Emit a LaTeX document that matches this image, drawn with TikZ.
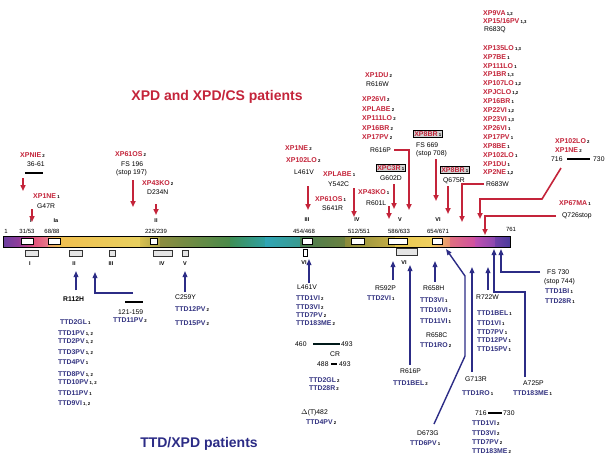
\documentclass[tikz,border=0pt]{standalone}
\usepackage{fontspec}
\setmainfont{Liberation Sans}
\usetikzlibrary{arrows.meta}
\definecolor{xpred}{HTML}{C4243A}
\definecolor{navy}{HTML}{2C2C86}
\definecolor{ttdb}{HTML}{343482}
\definecolor{c01}{HTML}{6B3FA0}\definecolor{c02}{HTML}{8E3C9A}
\definecolor{c03}{HTML}{D84A7A}\definecolor{c04}{HTML}{E0507A}
\definecolor{c05}{HTML}{E87A8A}\definecolor{c06}{HTML}{E8A070}
\definecolor{c07}{HTML}{F0C050}\definecolor{c08}{HTML}{E8D060}
\definecolor{c09}{HTML}{D8C050}\definecolor{c10}{HTML}{A8A048}
\definecolor{c11}{HTML}{8C8C40}\definecolor{c12}{HTML}{4A8A4A}
\definecolor{c13}{HTML}{3E8E55}\definecolor{c14}{HTML}{2FA0A0}
\definecolor{c15}{HTML}{2FA5B5}\definecolor{c16}{HTML}{3A9A90}
\definecolor{c17}{HTML}{4A7E50}\definecolor{c18}{HTML}{6A8040}
\definecolor{c19}{HTML}{8A8A3A}\definecolor{c20}{HTML}{C8B048}
\definecolor{c21}{HTML}{E8C850}\definecolor{c22}{HTML}{F0D060}
\definecolor{c23}{HTML}{F0C860}\definecolor{c24}{HTML}{E89070}
\definecolor{c25}{HTML}{E07080}\definecolor{c26}{HTML}{D050A0}
\definecolor{c27}{HTML}{C050B0}\definecolor{c28}{HTML}{8A48B0}
\definecolor{c29}{HTML}{7040A8}\definecolor{c30}{HTML}{4A3A9A}
\newcommand\nb[1]{\,{\fontsize{4.3}{4.5}\selectfont\color{black}#1}}
\tikzset{
 xp/.style={anchor=west, inner sep=0pt, text=xpred, font=\fontsize{7}{8}\selectfont\bfseries},
 mu/.style={anchor=west, inner sep=0pt, font=\fontsize{6.8}{8}\selectfont},
 td/.style={anchor=west, inner sep=0pt, text=ttdb, font=\fontsize{6.9}{8}\selectfont\bfseries},
 posn/.style={inner sep=0pt, font=\fontsize{6}{7}\selectfont},
 rom/.style={inner sep=0pt, font=\fontsize{5.5}{6}\selectfont\bfseries},
 rarr/.style={draw=xpred, line width=1.6pt, -{Triangle[length=6pt,width=5pt]}},
 barr/.style={draw=navy, line width=1.4pt, -{Triangle[length=6pt,width=4.6pt]}},
 xbox/.style={draw=black, fill=gray!35, line width=0.6pt, inner sep=1pt},
 wbox/.style={draw=black, fill=white, line width=0.5pt},
 gbox/.style={draw=black!80, fill=gray!20, line width=0.6pt},
 blk/.style={line width=2.2pt, draw=black},
 ttl/.style={inner sep=0pt, font=\fontsize{14}{16}\selectfont\bfseries},
}
\begin{document}
\begin{tikzpicture}[x=1pt,y=-1pt]
\useasboundingbox[fill=white] (0,0) rectangle (607,459);

% ---------------- protein bar ----------------
\fill[left color=c01, right color=c02] (3,236) rectangle (18,247);
\fill[left color=c02, right color=c03] (18,236) rectangle (33,247);
\fill[left color=c04, right color=c05] (33,236) rectangle (48,247);
\fill[left color=c06, right color=c07] (48,236) rectangle (60,247);
\fill[left color=c07, right color=c08] (60,236) rectangle (140,247);
\fill[left color=c09, right color=c10] (140,236) rectangle (160,247);
\fill[left color=c11, right color=c12] (160,236) rectangle (230,247);
\fill[left color=c13, right color=c14] (230,236) rectangle (265,247);
\fill[left color=c15, right color=c16] (265,236) rectangle (300,247);
\fill[left color=c17, right color=c18] (300,236) rectangle (345,247);
\fill[left color=c19, right color=c20] (345,236) rectangle (395,247);
\fill[left color=c21, right color=c22] (395,236) rectangle (432,247);
\fill[left color=c23, right color=c24] (432,236) rectangle (450,247);
\fill[left color=c25, right color=c26] (450,236) rectangle (475,247);
\fill[left color=c27, right color=c28] (475,236) rectangle (495,247);
\fill[left color=c29, right color=c30] (495,236) rectangle (510,247);
\draw[line width=0.5pt] (3,236) rectangle (510,247);
\foreach \a/\b in {21/33,48/60,150/157,302/312,351/364,388/407,432/442}
  \draw[wbox] (\a,238.5) rectangle (\b,244.5);
% helicase motif boxes
\foreach \a/\b in {25/38,69/82,109/115,153/172,182/188}
  \draw[gbox] (\a,250) rectangle (\b,256);
\draw[wbox, line width=0.8pt] (303,249) rectangle (307,256);
\draw[gbox, line width=0.9pt] (396,248) rectangle (417,255);

% position numbers and region labels
\node[posn] (p1) at (6,231) {1};
\node[posn] (p2) at (27,231) {31/53};
\node[posn] (p3) at (52,231) {68/88};
\node[posn] (p4) at (156,231) {225/239};
\node[posn] (p5) at (304,231) {454/468};
\node[posn] (p6) at (359,231) {512/551};
\node[posn] (p7) at (399,231) {586/633};
\node[posn] (p8) at (438,231) {654/671};
\node[posn] (p9) at (511,229) {761};
\node[rom] (r1) at (31,221) {I};
\node[rom] (r2) at (56,221) {Ia};
\node[rom] (r3) at (156,221) {II};
\node[rom] (r4) at (307,220) {III};
\node[rom] (r5) at (357,220) {IV};
\node[rom] (r6) at (400,220) {V};
\node[rom] (r7) at (438,220) {VI};
\node[rom] (m1) at (30,264) {I};
\node[rom] (m2) at (74,264) {II};
\node[rom] (m3) at (111,264) {III};
\node[rom] (m4) at (162,264) {IV};
\node[rom] (m5) at (185,264) {V};
\node[rom] (m6) at (304,263) {VI};
\node[rom] (m7) at (404,263) {VI};

% ---------------- titles ----------------
\node[ttl, text=xpred] (t1) at (217,97) {XPD and XPD/CS patients};
\node[ttl, text=navy] (t2) at (199,444) {TTD/XPD patients};

% ---------------- XP / XPCS (top) ----------------
\node[xp] (a1) at (20,155) {XPNIE\nb{2}};
\node[mu] (a1m) at (27,164) {36-61};
\draw[blk] (25,173) -- (43,173);
\draw[rarr] (23,178) -- (23,191);
\node[xp] (a2) at (33,196) {XP1NE\nb{1}};
\node[mu] (a2m) at (37,206) {G47R};
\draw[rarr] (32,209) -- (32,222);
\node[xp] (a3) at (115,154) {XP61OS\nb{2}};
\node[mu] (a3m) at (121,164) {FS 196};
\node[mu] (a3n) at (116,173) {(stop 197)};
\draw[rarr] (133,180) -- (133,207);
\node[xp] (a4) at (142,183) {XP43KO\nb{2}};
\node[mu] (a4m) at (147,192) {D234N};
\draw[rarr] (156,204) -- (156,215);

\node[xp] (b1) at (285,148) {XP1NE\nb{2}};
\node[xp] (b2) at (286,160) {XP102LO\nb{2}};
\node[mu] (b2m) at (294,172) {L461V};
\draw[rarr] (308,186) -- (308,210);
\node[xp] (b3) at (323,174) {XPLABE\nb{1}};
\node[mu] (b3m) at (328,184) {Y542C};
\node[xp] (b4) at (315,199) {XP61OS\nb{1}};
\node[mu] (b4m) at (322,208) {S641R};
\draw[rarr] (354,188) -- (354,217);
\node[xp] (b5) at (358,192) {XP43KO\nb{1}};
\node[mu] (b5m) at (366,203) {R601L};
\draw[rarr] (389,206) -- (389,219);
\node[xp, xbox] (b6) at (376,168) {XPC3R\nb{1}};
\node[mu] (b6m) at (380,178) {G602D};
\draw[rarr] (394,184) -- (394,209);

\node[xp] (c1) at (365,75) {XP1DU\nb{2}};
\node[mu] (c1m) at (366,84) {R616W};
\node[xp] (c2) at (362,99) {XP26VI\nb{2}};
\node[xp] (c3) at (362,109) {XPLABE\nb{2}};
\node[xp] (c4) at (362,118) {XP111LO\nb{2}};
\node[xp] (c5) at (362,128) {XP16BR\nb{2}};
\node[xp] (c6) at (362,137) {XP17PV\nb{2}};
\node[mu] (c7) at (370,150) {R616P};
\draw[rarr] (c7.east) ++(3,0) -- (409,150) -- (409,210);

\node[xp, xbox] (d1) at (413,134) {XP8BR\nb{1}};
\node[mu] (d1m) at (416,145) {FS 669};
\node[mu] (d1n) at (416,154) {(stop 708)};
\draw[rarr] (436,159) -- (436,201);
\node[xp, xbox] (d2) at (440,170) {XP8BR\nb{1}};
\node[mu] (d2m) at (443,181) {Q675R};
\draw[rarr] (448,186) -- (448,214);

\node[xp] (e1) at (483,13) {XP9VA\nb{1,2}};
\node[xp] (e2) at (483,21) {XP15/16PV\nb{1,3}};
\node[mu] (e3) at (484,30) {R683Q};
\foreach \n/\t [count=\i from 0] in {XP135LO/{1,3},XP7BE/1,XP111LO/1,XP1BR/{1,3},XP107LO/{1,2},XPJCLO/{1,2},XP16BR/1,XP22VI/{1,2},XP23VI/{1,3},XP26VI/1,XP17PV/1,XP8BE/1,XP102LO/1,XP1DU/1,XP2NE/{1,2}}
  \node[xp] (f\i) at (483,48+8.9*\i) {\n\nb{\t}};
\node[mu] (e4) at (486,184) {R683W};
\draw[rarr] (e4.west) ++(-2,0) -- (462,184) -- (462,222);

\node[xp] (g1) at (555,141) {XP102LO\nb{2}};
\node[xp] (g2) at (555,150) {XP1NE\nb{2}};
\node[mu] (g3) at (551,159) {716};
\draw[blk] (567,159) -- (590,159);
\node[mu] (g4) at (593,159) {730};
\draw[rarr] (561,168) -- (542,199) -- (480,199) -- (480,219);
\node[xp] (h1) at (559,203) {XP67MA\nb{1}};
\node[mu] (h2) at (562,216) {Q726stop};
\draw[rarr] (h2.west) ++(-6,0) -- (485,216) -- (485,235);

% ---------------- TTD (bottom) ----------------
\draw[barr] (76,290) -- (76,271);
\node[mu, font=\fontsize{6.8}{8}\selectfont\bfseries] (k1) at (63,299) {R112H};
\draw[barr] (133,293) -- (95,293) -- (95,272);
\draw[blk] (125,302) -- (143,302);
\node[mu] (k2) at (118,312) {121-159};
\node[td] (k3) at (113,320) {TTD11PV\nb{2}};
\draw[barr] (185,292) -- (185,271);
\node[mu] (k4) at (175,297) {C259Y};
\node[td] (k5) at (175,309) {TTD12PV\nb{2}};
\node[td] (k6) at (175,323) {TTD15PV\nb{2}};
\node[td] (l1) at (60,322) {TTD2GL\nb{1}};
\node[td] (l2) at (58,333) {TTD1PV\nb{1, 2}};
\node[td] (l3) at (58,341) {TTD2PV\nb{1, 2}};
\node[td] (l4) at (58,352) {TTD3PV\nb{1, 2}};
\node[td] (l5) at (58,362) {TTD4PV\nb{1}};
\node[td] (l6) at (58,374) {TTD8PV\nb{1, 2}};
\node[td] (l7) at (58,382) {TTD10PV\nb{1, 2}};
\node[td] (l8) at (58,393) {TTD11PV\nb{1}};
\node[td] (l9) at (58,403) {TTD9VI\nb{1, 2}};

\draw[barr] (309,283) -- (309,259);
\node[mu] (n1) at (297,287) {L461V};
\node[td] (n2) at (296,298) {TTD1VI\nb{2}};
\node[td] (n3) at (296,307) {TTD3VI\nb{2}};
\node[td] (n4) at (296,315) {TTD7PV\nb{2}};
\node[td] (n5) at (296,323) {TTD183ME\nb{2}};
\node[mu] (n6) at (295,344) {460};
\draw[line width=2pt, draw=black!80!teal] (313,344) -- (340,344);
\node[mu] (n7) at (341,344) {493};
\node[mu] (n8) at (330,354) {CR};
\node[mu] (n9) at (317,364) {488};
\draw[line width=2pt] (331,364) -- (337,364);
\node[mu] (n10) at (339,364) {493};
\node[td] (n11) at (309,380) {TTD2GL\nb{2}};
\node[td] (n12) at (309,388) {TTD28R\nb{2}};
\node[mu] (n13) at (301,413) {$\Delta$(T)482};
\node[td] (n14) at (306,422) {TTD4PV\nb{2}};

\draw[barr] (393,280) -- (393,261);
\node[mu] (o1) at (375,288) {R592P};
\node[td] (o2) at (367,298) {TTD2VI\nb{1}};
\draw[barr] (410,365) -- (410,265);
\node[mu] (o3) at (400,371) {R616P};
\node[td] (o4) at (393,383) {TTD1BEL\nb{2}};
\draw[barr] (435,282) -- (435,261);
\node[mu] (o5) at (423,288) {R658H};
\node[td] (o6) at (420,300) {TTD3VI\nb{1}};
\node[td] (o7) at (420,310) {TTD10VI\nb{1}};
\node[td] (o8) at (420,321) {TTD11VI\nb{1}};
\node[mu] (o9) at (426,335) {R658C};
\node[td] (o10) at (420,345) {TTD1RO\nb{2}};

\draw[barr] (434,424) -- (465,356) -- (465,276) -- (446,249);
\node[mu] (q1) at (417,433) {D673G};
\node[td] (q2) at (410,443) {TTD6PV\nb{1}};
\draw[barr] (472,372) -- (472,267);
\node[mu] (q3) at (465,379) {G713R};
\node[td] (q4) at (462,393) {TTD1RO\nb{1}};
\draw[barr] (488,290) -- (488,267);
\node[mu] (q5) at (476,297) {R722W};
\node[td] (q6) at (477,313) {TTD1BEL\nb{1}};
\node[td] (q7) at (477,323) {TTD1VI\nb{1}};
\node[td] (q8) at (477,332) {TTD7PV\nb{1}};
\node[td] (q9) at (477,340) {TTD12PV\nb{1}};
\node[td] (q10) at (477,349) {TTD15PV\nb{1}};
\draw[barr] (525,377) -- (525,292) -- (494,292) -- (494,249);
\node[mu] (q11) at (523,383) {A725P};
\node[td] (q12) at (513,393) {TTD183ME\nb{1}};
\draw[barr] (540,272) -- (501,272) -- (501,249);
\node[mu] (s1) at (547,272) {FS 730};
\node[mu] (s2) at (544,282) {(stop 744)};
\node[td] (s3) at (545,291) {TTD1BI\nb{1}};
\node[td] (s4) at (545,301) {TTD28R\nb{1}};
\node[mu] (u1) at (475,413) {716};
\draw[line width=2pt] (488,413) -- (502,413);
\node[mu] (u2) at (503,413) {730};
\node[td] (u3) at (472,423) {TTD1VI\nb{2}};
\node[td] (u4) at (472,433) {TTD3VI\nb{2}};
\node[td] (u5) at (472,442) {TTD7PV\nb{2}};
\node[td] (u6) at (472,451) {TTD183ME\nb{2}};
\end{tikzpicture}
\end{document}
